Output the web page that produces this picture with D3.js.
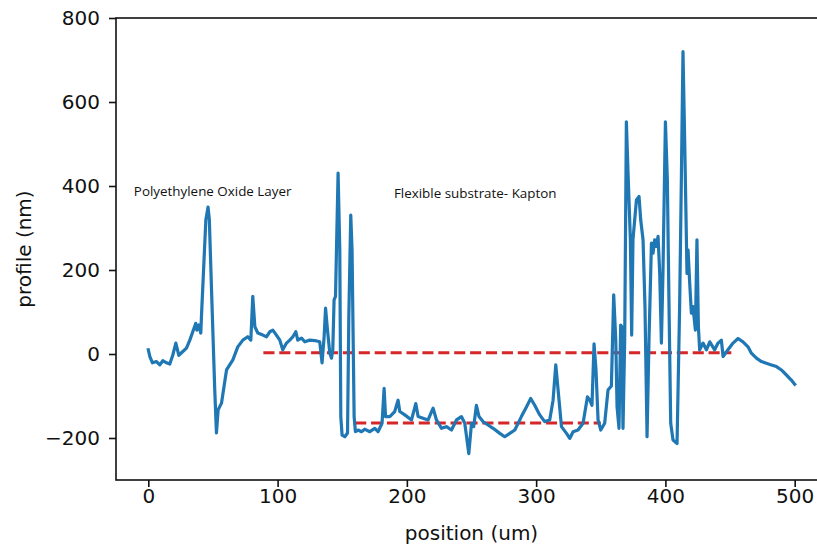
<!DOCTYPE html>
<html>
<head>
<meta charset="utf-8">
<script src="https://cdn.jsdelivr.net/npm/d3@7"></script>
<style>
  body { margin: 0; background: #fff; }
  svg { display: block; }
  .tick text { font-family: "DejaVu Sans", sans-serif; font-size: 20px; fill: #111; }
  .note { font-family: "Open Sans", sans-serif; font-size: 13.4px; fill: #111; }
  .axis-label { font-family: "DejaVu Sans", sans-serif; font-size: 20px; fill: #111; }
</style>
</head>
<body>
<div id="chart"></div>
<script>
// profile scan: position (um) -> profile (nm)
var positionUm = [
  0, 1.2, 3.2, 6.3, 8.9, 11.2, 14.1, 16.6, 18.9, 21.3, 23.6, 26.7, 29.5, 32.1, 34.4, 36.7, 37.5, 39.1, 40.6, 41.1,
  44.5, 46.2, 47.2, 48.9, 51.4, 52.7, 54, 56.6, 60.5, 65.4, 69.2, 73.1, 76.9, 79.3, 80.8, 82.4, 84.7, 88.6, 91.4, 94,
  96.3, 99.1, 101.7, 104, 106.9, 109.4, 111.8, 114.1, 115.6, 118.5, 121, 124.9, 128.8, 132.6, 134.4, 136, 137.1, 138.6, 140.4, 141.7,
  142.7, 143.7, 144.8, 146.8, 148.1, 148.9, 149.9, 152, 154.1, 155.1, 156.6, 157.6, 159.2, 160.2, 162.3, 164.9, 167.4, 171.3, 175.2, 177.7,
  180.8, 182.4, 183.5, 186.8, 190.6, 193.2, 194.5, 198.4, 203.6, 206.9, 208.7, 212.5, 216.4, 220.3, 222.9, 226.8, 230.6, 234.5, 238.4, 242.2,
  244.8, 247.9, 250, 251.7, 253.8, 255.8, 258.9, 262.8, 266.7, 271.9, 275.7, 279.6, 283.5, 288.6, 292.5, 295.8, 298.9, 302.8, 306.6, 310.5,
  313.1, 315.2, 317, 319.6, 323.5, 326, 328.6, 332.4, 336.3, 339.7, 341.5, 343.2, 344.8, 346.3, 347.9, 350, 353, 355.6, 358.2, 360,
  361.6, 362.6, 364.1, 365.4, 366.2, 367.2, 368.5, 369.8, 371.1, 372.9, 373.9, 374.9, 377.6, 379.6, 380.9, 382.7, 384.2, 385.8, 387.3, 389.2,
  390.4, 391.7, 393, 394.3, 395.6, 396.9, 398.1, 400, 401.5, 402.8, 404.1, 405.9, 409, 411, 412.4, 413.6, 414.9, 416.7, 417.5, 418.8,
  420.1, 421.3, 423.2, 424.4, 425.5, 426.5, 429.1, 431.7, 434.3, 438.1, 440.7, 443.3, 444.6, 448.4, 452.3, 456.2, 460, 463.9, 466.5, 470.4,
  474.3, 478.1, 482, 485.9, 489.7, 493.6, 497.4, 500
];
var profileNm = [
  10, -6, -21, -18, -26, -16, -21, -24, -3, 26, -3, 6, 14, 33, 53, 73, 57, 69, 50, 89,
  319, 350, 320, 152, -86, -188, -133, -117, -38, -14, 17, 33, 41, 33, 137, 65, 50, 45, 41, 53,
  57, 45, 33, 10, 26, 33, 41, 53, 33, 38, 29, 33, 32, 29, -21, 41, 109, 57, 2, -10,
  10, 129, 137, 431, 250, -149, -193, -197, -188, 89, 331, 248, -149, -185, -181, -185, -179, -185, -177, -185,
  -165, -82, -149, -149, -137, -110, -137, -145, -157, -118, -149, -153, -157, -129, -157, -177, -173, -181, -157, -149,
  -165, -237, -165, -173, -122, -149, -161, -169, -177, -189, -197, -189, -181, -149, -126, -106, -122, -145, -161, -157,
  -110, -26, -86, -173, -189, -201, -185, -181, -165, -102, -110, -122, 24, -38, -157, -181, -165, -86, -76, 141,
  33, -126, -177, 69, 65, -177, 33, 553, 431, 272, 45, 272, 367, 375, 319, 272, 113, -197, 33, 264,
  240, 272, 256, 280, 192, 26, 192, 553, 415, 113, -165, -205, -213, 113, 431, 720, 510, 192, 248, 168,
  97, 113, 57, 272, 65, 10, 26, 10, 29, 10, 26, 33, -6, 10, 26, 37, 29, 17, 2, -10,
  -18, -22, -26, -30, -38, -50, -62, -72
];

// the two red dashed reference levels
var refFrom = [89, 160];
var refTo = [451, 350];
var refLevel = [3, -164];

var xTicks = [0, 100, 200, 300, 400, 500];
var yTicks = [-200, 0, 200, 400, 600, 800];

var notes = ["Polyethylene Oxide Layer", "Flexible substrate- Kapton"];
var notePos = [[-11.2, 377], [190, 371]];  // [position, profile] where each note starts

var width = 817, height = 547;
var margin = { left: 116, top: 18, right: -10, bottom: 67 };
var w = width - margin.left - margin.right,
    h = height - margin.top - margin.bottom;

var data = positionUm.map(function(p, i) { return { x: p, y: profileNm[i] }; });

var x = d3.scaleLinear().domain([-25, 525]).range([0, w]);
var y = d3.scaleLinear().domain([-300, 800]).range([h, 0]);

var svg = d3.select("#chart")
    .append("svg")
    .attr("width", width)
    .attr("height", height)
    .append("g")
    .attr("transform", "translate(" + margin.left + "," + margin.top + ")");

svg.append("clipPath").attr("id", "clip")
    .append("rect").attr("width", w).attr("height", h);

// red dashed levels sit under the profile
svg.selectAll(".ref")
    .data(refLevel)
    .enter().append("line")
    .attr("class", "ref")
    .attr("x1", function(d, i) { return x(refFrom[i]); })
    .attr("x2", function(d, i) { return x(refTo[i]); })
    .attr("y1", function(d) { return y(d); })
    .attr("y2", function(d) { return y(d); })
    .style("stroke", "#d62728")
    .style("stroke-width", 3)
    .style("stroke-dasharray", "11.1,4.8");

var line = d3.line()
    .x(function(d) { return x(d.x); })
    .y(function(d) { return y(d.y); });

svg.append("path")
    .datum(data)
    .attr("clip-path", "url(#clip)")
    .attr("d", line)
    .style("fill", "none")
    .style("stroke", "#1f77b4")
    .style("stroke-width", 3.2)
    .style("stroke-linejoin", "round")
    .style("stroke-linecap", "square");

// axes
var xAxis = d3.axisBottom(x).tickValues(xTicks).tickSizeOuter(0).tickSize(7).tickPadding(2);
var yAxis = d3.axisLeft(y).tickValues(yTicks).tickSizeOuter(0).tickSize(7).tickPadding(9)
    .tickFormat(function(d) { return d < 0 ? "\u2212" + Math.abs(d) : d; });

var gx = svg.append("g").attr("transform", "translate(0," + h + ")").call(xAxis);
var gy = svg.append("g").call(yAxis);
[gx, gy].forEach(function(g) {
    g.select(".domain").remove();
    g.selectAll(".tick line").style("stroke", "#111").style("stroke-width", 1.6);
});

// frame
svg.append("rect")
    .attr("width", w)
    .attr("height", h)
    .style("fill", "none")
    .style("stroke", "#111")
    .style("stroke-width", 1.6);

// notes
svg.selectAll(".note")
    .data(notes)
    .enter().append("text")
    .attr("class", "note")
    .attr("x", function(d, i) { return x(notePos[i][0]); })
    .attr("y", function(d, i) { return y(notePos[i][1]); })
    .text(function(d) { return d; });

svg.append("text")
    .attr("class", "axis-label")
    .attr("x", w / 2)
    .attr("y", h + 60)
    .attr("text-anchor", "middle")
    .text("position (um)");

svg.append("text")
    .attr("class", "axis-label")
    .attr("transform", "translate(" + (31 - margin.left) + "," + (h / 2) + ") rotate(-90)")
    .attr("text-anchor", "middle")
    .text("profile (nm)");
</script>
</body>
</html>
